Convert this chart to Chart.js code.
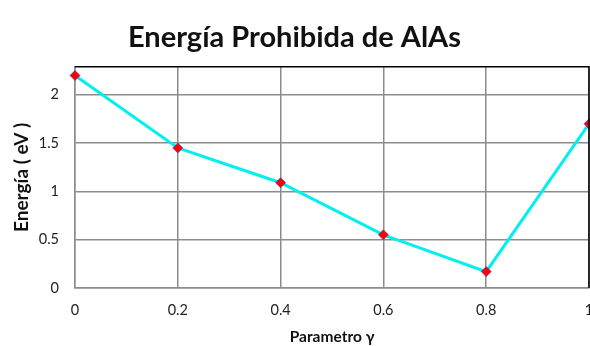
<!DOCTYPE html>
<html>
<head>
<meta charset="utf-8">
<script src="https://cdn.jsdelivr.net/npm/chart.js@4/dist/chart.umd.min.js"></script>
<style>
  html, body { margin: 0; padding: 0; background: #fff; }
  #wrap { width: 590px; height: 346px; position: relative; }
</style>
</head>
<body>
<div id="wrap"><canvas id="c" width="590" height="346"></canvas></div>
<script>
// Band gap of AlAs versus the parameter gamma
const gammaValues = [0, 0.2, 0.4, 0.6, 0.8, 1];
const gapEnergies = [2.2, 1.45, 1.09, 0.55, 0.17, 1.7];
const yTickValues = [0, 0.5, 1, 1.5, 2];
const xTickValues = [0, 0.2, 0.4, 0.6, 0.8, 1];

const chartTitle = 'Energía Prohibida de AlAs';
const xTitle = 'Parametro γ';
const yTitle = 'Energía ( eV )';

const FONT = 'Lato, "Open Sans", sans-serif';

// Black outline on the top and right edges of the plot area
const frame = {
  id: 'frame',
  afterDatasetsDraw(chart) {
    const { ctx, chartArea: a } = chart;
    ctx.save();
    ctx.strokeStyle = '#000';
    ctx.lineWidth = 1.5;
    ctx.beginPath();
    ctx.moveTo(a.left, a.top);
    ctx.lineTo(a.right, a.top);
    ctx.lineTo(a.right, a.bottom);
    ctx.stroke();
    ctx.restore();
  }
};

new Chart(document.getElementById('c'), {
  type: 'line',
  data: {
    datasets: [{
      data: gammaValues.map((g, i) => ({ x: g, y: gapEnergies[i] })),
      borderColor: '#00f0f0',
      borderWidth: 3,
      pointStyle: 'rectRot',
      pointRadius: 5,
      pointBackgroundColor: '#ff0000',
      pointBorderColor: 'rgba(90,60,170,0.7)',
      pointBorderWidth: 1,
      tension: 0,
      clip: false
    }]
  },
  options: {
    responsive: false,
    animation: false,
    events: [],
    layout: { autoPadding: false, padding: { left: 0, right: 1, top: 0, bottom: 0 } },
    plugins: {
      legend: { display: false },
      tooltip: { enabled: false },
      title: {
        display: true,
        text: chartTitle,
        color: '#111',
        font: { family: FONT, size: 29, weight: 'bold' },
        padding: { top: 20, bottom: 12 }
      }
    },
    scales: {
      x: {
        type: 'linear',
        min: 0,
        max: 1,
        afterBuildTicks(scale) { scale.ticks = xTickValues.map(v => ({ value: v })); },
        afterFit(scale) { scale.paddingLeft = 0; scale.paddingRight = 0; scale.height = 58; },
        ticks: {
          color: '#222',
          font: { family: FONT, size: 14.5 },
          padding: 14,
          maxRotation: 0,
          callback: v => String(v)
        },
        grid: { color: '#8c8c8c', lineWidth: 1.5, drawTicks: false },
        border: { color: '#8c8c8c', width: 1.5 },
        title: {
          display: true,
          text: xTitle,
          color: '#111',
          font: { family: FONT, size: 15.5, weight: 'bold' },
          padding: { top: 4, bottom: 0 }
        }
      },
      y: {
        type: 'linear',
        min: 0,
        max: 2.29,
        afterBuildTicks(scale) { scale.ticks = yTickValues.map(v => ({ value: v })); },
        afterFit(scale) { scale.width = 75; },
        ticks: {
          color: '#222',
          font: { family: FONT, size: 14.5 },
          padding: 16,
          callback: v => String(v)
        },
        grid: { color: '#8c8c8c', lineWidth: 1.5, drawTicks: false },
        border: { color: '#8c8c8c', width: 1.5 },
        title: {
          display: true,
          text: yTitle,
          color: '#111',
          font: { family: FONT, size: 19, weight: 'bold' },
          padding: { top: 10, bottom: 0 }
        }
      }
    }
  },
  plugins: [frame]
});
</script>
</body>
</html>
